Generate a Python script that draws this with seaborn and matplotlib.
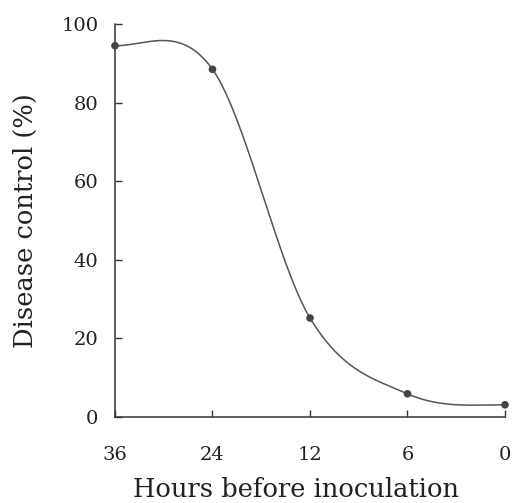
import numpy as np
import pandas as pd
import matplotlib
matplotlib.use("Agg")
import matplotlib.pyplot as plt
import seaborn as sns

# Data
hours_labels = ["36", "24", "12", "6", "0"]
disease_control = [94.5, 88.5, 25.2, 5.9, 3.1]
y_ticks = [0, 20, 40, 60, 80, 100]

sns.set_style("ticks")
plt.rcParams["font.family"] = ["DejaVu Serif"]

pos = np.arange(len(hours_labels), dtype=float)
vals = np.array(disease_control, dtype=float)

# cardinal (Catmull-Rom) spline through the measured points, flat at both ends
def smooth_curve(x, y, n_per=80):
    m = np.zeros_like(y)
    m[1:-1] = (y[2:] - y[:-2]) / (x[2:] - x[:-2])
    xs_all, ys_all = [], []
    for i in range(len(x) - 1):
        h = x[i + 1] - x[i]
        t = np.linspace(0, 1, n_per, endpoint=(i == len(x) - 2))
        h00 = 2 * t**3 - 3 * t**2 + 1
        h10 = t**3 - 2 * t**2 + t
        h01 = -2 * t**3 + 3 * t**2
        h11 = t**3 - t**2
        xs_all.append(x[i] + t * h)
        ys_all.append(h00 * y[i] + h10 * h * m[i] + h01 * y[i + 1] + h11 * h * m[i + 1])
    return np.concatenate(xs_all), np.concatenate(ys_all)

cx, cy = smooth_curve(pos, vals)
curve = pd.DataFrame({"pos": cx, "val": cy})
points = pd.DataFrame({"pos": pos, "val": vals})

fig = plt.figure(figsize=(5.14, 5.03), dpi=100)
ax = fig.add_axes([0.2237, 0.171, 0.7588, 0.781])

sns.lineplot(data=curve, x="pos", y="val", ax=ax, color="#555555", linewidth=1.1,
             sort=False)
sns.scatterplot(data=points, x="pos", y="val", ax=ax, color="#444444", s=30,
                edgecolor="none", clip_on=False, zorder=5)

ax.set_xlim(pos[0], pos[-1])
ax.set_ylim(0, 100)
ax.set_xticks(pos)
ax.set_xticklabels(hours_labels)
ax.set_yticks(y_ticks)
ax.tick_params(direction="in", length=5, width=1, colors="#333333",
               labelsize=14, labelcolor="#222222")
ax.tick_params(axis="x", pad=21)
ax.tick_params(axis="y", pad=12)
for s in ["top", "right"]:
    ax.spines[s].set_visible(False)
for s in ["left", "bottom"]:
    ax.spines[s].set_color("#333333")
    ax.spines[s].set_linewidth(1.1)

ax.set_xlabel("Hours before inoculation", fontsize=18.5, color="#222222")
ax.xaxis.set_label_coords(0.465, -0.152)
ax.set_ylabel("Disease control (%)", fontsize=18.5, color="#222222", labelpad=17)

fig.savefig("out.png", dpi=100)
